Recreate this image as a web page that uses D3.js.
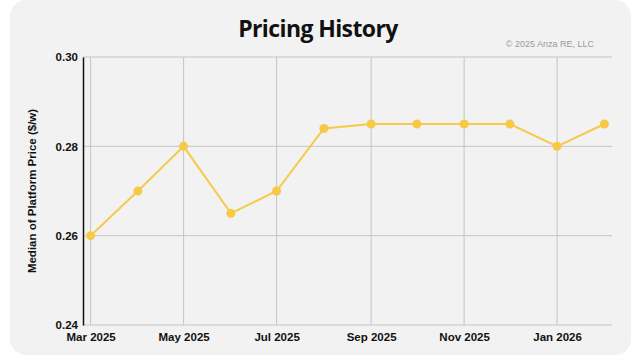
<!DOCTYPE html>
<html>
<head>
<meta charset="utf-8">
<script src="https://cdn.jsdelivr.net/npm/d3@7"></script>
<style>
  body { margin: 0; background: #fff; }
  svg { display: block; }
</style>
</head>
<body>
<div id="chart"></div>
<script>
// monthly median platform price
const months = ["2025-03-01", "2025-04-01", "2025-05-01", "2025-06-01", "2025-07-01", "2025-08-01",
                "2025-09-01", "2025-10-01", "2025-11-01", "2025-12-01", "2026-01-01", "2026-02-01"]
const prices = [0.26, 0.27, 0.28, 0.265, 0.27, 0.284, 0.285, 0.285, 0.285, 0.285, 0.28, 0.285]
const yTicks = [0.24, 0.26, 0.28, 0.30]
const xTickDates = ["2025-03-01", "2025-05-01", "2025-07-01", "2025-09-01", "2025-11-01", "2026-01-01"]

const parse = d3.timeParse("%Y-%m-%d")
const data = months.map((m, i) => ({ date: parse(m), value: prices[i] }))

const width = 640, height = 360
const margin = { top: 57, right: 28, bottom: 35, left: 83 }

let svg = d3.select("#chart").append("svg")
  .attr("width", width)
  .attr("height", height)

// card background
svg.append("rect")
  .attr("x", 10).attr("y", 0)
  .attr("width", 621).attr("height", 355)
  .attr("rx", 16)
  .attr("fill", "#f2f2f2")

// scales
let x = d3.scaleTime()
  .domain([parse("2025-02-24"), parse("2026-02-06")])
  .range([margin.left, width - margin.right])

let y = d3.scaleLinear()
  .domain([0.24, 0.30])
  .range([height - margin.bottom, margin.top])

// title + credit
svg.append("text")
  .attr("x", 318).attr("y", 37)
  .attr("text-anchor", "middle")
  .style("font-family", "'Open Sans', sans-serif")
  .style("font-weight", "bold")
  .style("font-size", "23px")
  .style("letter-spacing", "-0.6px")
  .attr("fill", "#111")
  .text("Pricing History")

svg.append("text")
  .attr("x", 594).attr("y", 47)
  .attr("text-anchor", "end")
  .style("font-family", "'Liberation Sans', Arial, sans-serif")
  .style("font-size", "9px")
  .attr("fill", "#999")
  .text("© 2025 Anza RE, LLC")

// grid lines
svg.append("g")
  .selectAll("line")
  .data(yTicks)
  .enter().append("line")
  .attr("x1", margin.left).attr("x2", width - margin.right)
  .attr("y1", d => y(d)).attr("y2", d => y(d))
  .attr("stroke", "#c4c4c4")
  .attr("stroke-width", 1)

svg.append("g")
  .selectAll("line")
  .data(xTickDates.map(parse))
  .enter().append("line")
  .attr("x1", d => x(d)).attr("x2", d => x(d))
  .attr("y1", margin.top).attr("y2", height - margin.bottom)
  .attr("stroke", "#c4c4c4")
  .attr("stroke-width", 1)

// y axis
let yAxis = svg.append("g")
  .attr("transform", `translate(${margin.left},0)`)
  .call(d3.axisLeft(y).tickValues(yTicks).tickFormat(d3.format(".2f")).tickSize(0).tickPadding(5))
yAxis.select(".domain").attr("stroke", "#111").attr("stroke-width", 1.5)
yAxis.selectAll("text")
  .style("font-family", "'Liberation Sans', Arial, sans-serif")
  .style("font-weight", "bold")
  .style("font-size", "11.5px")
  .attr("fill", "#111")

// x axis
let xAxis = svg.append("g")
  .attr("transform", `translate(0,${height - margin.bottom})`)
  .call(d3.axisBottom(x).tickValues(xTickDates.map(parse)).tickFormat(d3.timeFormat("%b %Y")).tickSize(0).tickPadding(8))
xAxis.select(".domain").remove()
xAxis.selectAll("text")
  .style("font-family", "'Liberation Sans', Arial, sans-serif")
  .style("font-weight", "bold")
  .style("font-size", "11.5px")
  .attr("fill", "#111")

// y axis title
svg.append("text")
  .attr("transform", `translate(36,${(margin.top + height - margin.bottom) / 2}) rotate(-90)`)
  .attr("text-anchor", "middle")
  .style("font-family", "'Liberation Sans', Arial, sans-serif")
  .style("font-weight", "bold")
  .style("font-size", "11.5px")
  .attr("fill", "#111")
  .text("Median of Platform Price ($/w)")

// line + points
let line = d3.line()
  .x(d => x(d.date))
  .y(d => y(d.value))

svg.append("path")
  .datum(data)
  .attr("d", line)
  .attr("fill", "none")
  .attr("stroke", "#f7c948")
  .attr("stroke-width", 2)

svg.append("g")
  .selectAll("circle")
  .data(data)
  .enter().append("circle")
  .attr("cx", d => x(d.date))
  .attr("cy", d => y(d.value))
  .attr("r", 4.5)
  .attr("fill", "#f7c948")
</script>
</body>
</html>
